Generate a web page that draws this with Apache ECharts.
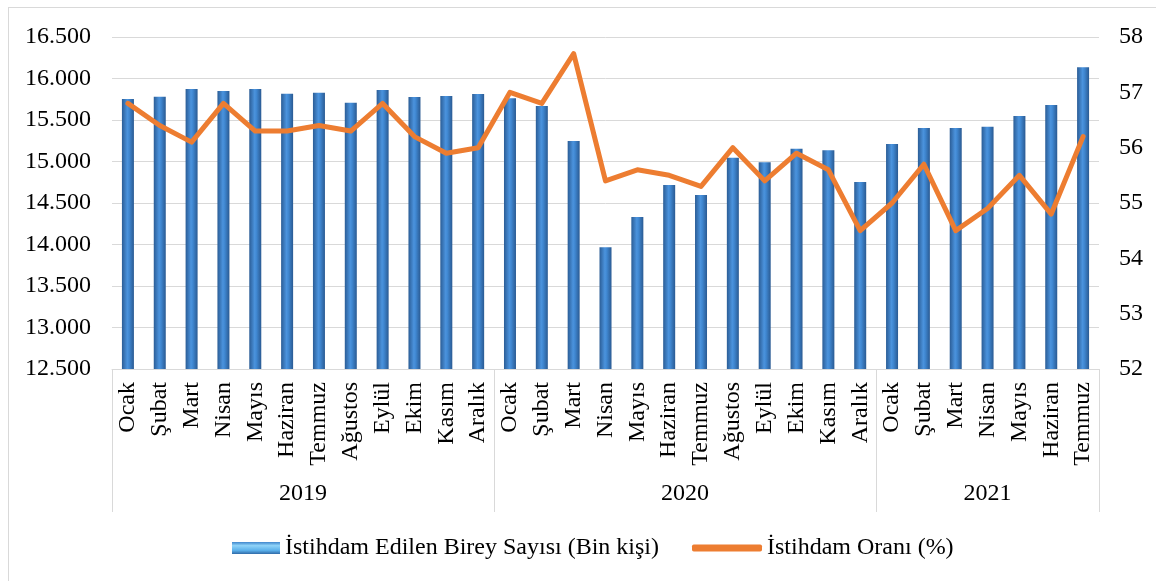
<!DOCTYPE html>
<html>
<head>
<meta charset="utf-8">
<script src="https://cdn.jsdelivr.net/npm/echarts@6/dist/echarts.min.js"></script>
<style>
  html, body { margin: 0; padding: 0; background: #fff; }
  #frame { position: absolute; left: 8px; top: 7px; width: 1200px; height: 620px; border-left: 1px solid #d9d9d9; border-top: 1px solid #d9d9d9; }
  #chart { position: absolute; left: 0; top: 0; width: 1156px; height: 581px; }
</style>
</head>
<body>
<div id="frame"></div>
<div id="chart"></div>
<script>
const months = ['Ocak','Şubat','Mart','Nisan','Mayıs','Haziran','Temmuz','Ağustos','Eylül','Ekim','Kasım','Aralık',
  'Ocak','Şubat','Mart','Nisan','Mayıs','Haziran','Temmuz','Ağustos','Eylül','Ekim','Kasım','Aralık',
  'Ocak','Şubat','Mart','Nisan','Mayıs','Haziran','Temmuz'];
const years = ['2019','2020','2021'];
const monthsPerYear = [12, 12, 7];
const employed = [15753,15781,15873,15850,15873,15817,15829,15709,15861,15777,15789,15813,
  15761,15669,15247,13966,14331,14717,14596,15046,14990,15154,15135,14753,
  15210,15404,15404,15420,15548,15681,16135];
const rate = [56.8,56.4,56.1,56.8,56.3,56.3,56.4,56.3,56.8,56.2,55.9,56.0,
  57.0,56.8,57.7,55.4,55.6,55.5,55.3,56.0,55.4,55.9,55.6,54.5,
  55.0,55.7,54.5,54.9,55.5,54.8,56.2];
const leftTicks = { min: 12500, max: 16500, step: 500 };
const rightTicks = { min: 52, max: 58, step: 1 };
const barName = 'İstihdam Edilen Birey Sayısı (Bin kişi)';
const lineName = 'İstihdam Oranı (%)';

// group boundaries and centers for the year level
const bounds = [0];
monthsPerYear.forEach(n => bounds.push(bounds[bounds.length - 1] + n));
const centers = years.map((y, i) => (bounds[i] + bounds[i + 1]) / 2);

const serif = "'Liberation Serif','Times New Roman',serif";
const fs = 24;
const legendText = { fontFamily: serif, fontSize: fs, color: '#000' };
const chart = echarts.init(document.getElementById('chart'));
chart.setOption({
  animation: false,
  textStyle: { fontFamily: serif },
  grid: { left: 112, right: 57, top: 37, bottom: 212 },
  legend: [
    {
      left: 227, top: 531,
      itemWidth: 48, itemHeight: 12, itemGap: 0,
      textStyle: legendText,
      data: [{
        name: barName, icon: 'rect',
        itemStyle: {
          color: new echarts.graphic.LinearGradient(0, 0, 0, 1, [
            { offset: 0, color: '#3f86cc' },
            { offset: 0.3, color: '#8fd3f8' },
            { offset: 0.7, color: '#5bb0ea' },
            { offset: 1, color: '#2f6aa8' }
          ]),
          borderWidth: 0
        }
      }]
    },
    {
      left: 687, top: 531,
      itemWidth: 70, itemHeight: 7, itemGap: 0,
      textStyle: legendText,
      data: [{ name: lineName, icon: 'roundRect', itemStyle: { color: '#ed7d31', borderWidth: 0 } }]
    }
  ],
  xAxis: [
    {
      type: 'category',
      data: months,
      axisLine: { lineStyle: { color: '#d9d9d9' } },
      axisTick: { show: false },
      axisLabel: { rotate: 90, interval: 0, margin: 13, fontFamily: serif, fontSize: fs, color: '#000' }
    },
    {
      type: 'value',
      position: 'bottom',
      offset: 143,
      min: 0,
      max: bounds[bounds.length - 1],
      splitLine: { show: false },
      axisLine: { show: false },
      axisTick: { show: true, inside: true, length: 143, customValues: bounds, lineStyle: { color: '#d9d9d9', width: 1 } },
      axisLabel: {
        inside: true, margin: 6, customValues: centers, fontFamily: serif, fontSize: fs, color: '#000',
        formatter: v => { const i = centers.indexOf(v); return i >= 0 ? years[i] : ''; }
      }
    }
  ],
  yAxis: [
    {
      type: 'value',
      min: leftTicks.min, max: leftTicks.max, interval: leftTicks.step,
      axisLine: { show: false }, axisTick: { show: false },
      splitLine: { lineStyle: { color: '#d9d9d9', width: 1 } },
      axisLabel: {
        margin: 21, fontFamily: serif, fontSize: fs, color: '#000',
        formatter: v => String(v).replace(/^(\d+)(\d{3})$/, '$1.$2')
      }
    },
    {
      type: 'value',
      min: rightTicks.min, max: rightTicks.max, interval: rightTicks.step,
      axisLine: { show: false }, axisTick: { show: false },
      splitLine: { show: false },
      axisLabel: { margin: 20, fontFamily: serif, fontSize: fs, color: '#000' }
    }
  ],
  series: [
    {
      name: barName,
      type: 'bar',
      data: employed,
      barWidth: 12,
      itemStyle: {
        color: new echarts.graphic.LinearGradient(0, 0, 1, 0, [
          { offset: 0, color: '#2b5d96' },
          { offset: 0.45, color: '#4b93dd' },
          { offset: 0.6, color: '#4088d2' },
          { offset: 1, color: '#2a5a92' }
        ])
      }
    },
    {
      name: lineName,
      type: 'line',
      yAxisIndex: 1,
      data: rate,
      symbol: 'none',
      lineStyle: { color: '#ed7d31', width: 5, cap: 'round', join: 'round' },
      itemStyle: { color: '#ed7d31' },
      z: 3
    }
  ]
});
</script>
</body>
</html>
